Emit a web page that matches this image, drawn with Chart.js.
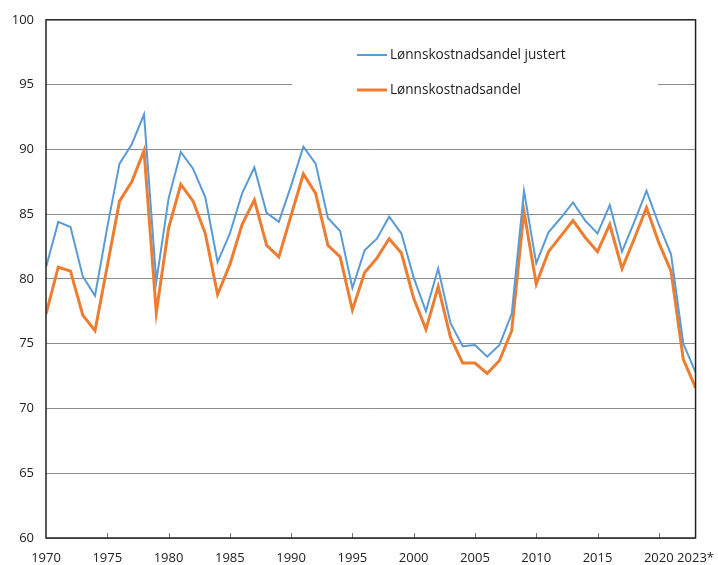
<!DOCTYPE html>
<html>
<head>
<meta charset="utf-8">
<script src="https://cdn.jsdelivr.net/npm/chart.js@4"></script>
<style>
  html, body { margin: 0; padding: 0; background: #fff; }
  #wrap { width: 718px; height: 565px; }
</style>
</head>
<body>
<div id="wrap"><canvas id="grafico"></canvas></div>
<script>
// år og verdier lest av figuren
const years = [1970, 1971, 1972, 1973, 1974, 1975, 1976, 1977, 1978, 1979,
  1980, 1981, 1982, 1983, 1984, 1985, 1986, 1987, 1988, 1989,
  1990, 1991, 1992, 1993, 1994, 1995, 1996, 1997, 1998, 1999,
  2000, 2001, 2002, 2003, 2004, 2005, 2006, 2007, 2008, 2009,
  2010, 2011, 2012, 2013, 2014, 2015, 2016, 2017, 2018, 2019,
  2020, 2021, 2022, 2023];

const justert = [80.9, 84.4, 84.0, 80.2, 78.7, 84.0, 88.9, 90.4, 92.7, 79.8,
  86.2, 89.8, 88.5, 86.3, 81.3, 83.5, 86.6, 88.6, 85.1, 84.4,
  87.2, 90.2, 88.9, 84.7, 83.7, 79.3, 82.2, 83.1, 84.8, 83.5,
  80.1, 77.5, 80.8, 76.6, 74.8, 74.9, 74.0, 74.9, 77.3, 86.8,
  81.2, 83.6, 84.7, 85.9, 84.5, 83.5, 85.7, 82.1, 84.4, 86.8,
  84.2, 81.9, 75.0, 72.8];

const andel = [77.3, 80.9, 80.6, 77.2, 76.0, 81.0, 86.0, 87.5, 89.9, 77.4,
  83.9, 87.3, 86.0, 83.5, 78.8, 81.1, 84.2, 86.1, 82.6, 81.7,
  84.9, 88.1, 86.6, 82.6, 81.7, 77.6, 80.5, 81.6, 83.1, 82.0,
  78.5, 76.1, 79.4, 75.5, 73.5, 73.5, 72.7, 73.7, 76.0, 85.2,
  79.6, 82.1, 83.3, 84.5, 83.2, 82.1, 84.2, 80.8, 83.1, 85.5,
  82.8, 80.6, 73.8, 71.6];

const xTicks = [1970, 1975, 1980, 1985, 1990, 1995, 2000, 2005, 2010, 2015, 2020, 2023];
const yTicks = [60, 65, 70, 75, 80, 85, 90, 95, 100];

const FONT = '"Open Sans", "Noto Sans", sans-serif';

// ramme, tick-streker og forklaring inne i plottet
const rammePlugin = {
  id: 'ramme',
  beforeDatasetsDraw(chart) {
    const ctx = chart.ctx;
    const a = chart.chartArea;
    const x = chart.scales.x;
    // hvit boks for forklaringen
    ctx.save();
    ctx.fillStyle = '#fff';
    ctx.fillRect(292, 30, 366, 100);
    ctx.font = '13.6px ' + FONT;
    ctx.textBaseline = 'middle';
    const rows = [[55, 0], [90, 1]];
    rows.forEach(([yy, i]) => {
      const ds = chart.data.datasets[i];
      ctx.strokeStyle = ds.borderColor;
      ctx.lineWidth = ds.borderWidth;
      ctx.beginPath();
      ctx.moveTo(357, yy);
      ctx.lineTo(387, yy);
      ctx.stroke();
      ctx.fillStyle = '#222';
      ctx.fillText(ds.label, 390, yy);
    });
    // små tick-streker på x-aksen
    ctx.strokeStyle = '#777';
    ctx.lineWidth = 1;
    xTicks.slice(1, -1).forEach(v => {
      const px = Math.round(x.getPixelForValue(v)) + 0.5;
      ctx.beginPath();
      ctx.moveTo(px, a.bottom);
      ctx.lineTo(px, a.bottom - 5);
      ctx.stroke();
    });
    ctx.restore();
  },
  afterDatasetsDraw(chart) {
    const ctx = chart.ctx;
    const a = chart.chartArea;
    ctx.save();
    ctx.strokeStyle = '#222';
    ctx.lineWidth = 1.5;
    ctx.strokeRect(a.left, a.top, a.right - a.left, a.bottom - a.top);
    ctx.restore();
  }
};

new Chart(document.getElementById('grafico').getContext('2d'), {
  type: 'line',
  data: {
    datasets: [
      {
        label: 'Lønnskostnadsandel justert',
        data: years.map((y, i) => ({ x: y, y: justert[i] })),
        borderColor: '#5B9BD5',
        borderWidth: 2,
        pointRadius: 0,
        tension: 0
      },
      {
        label: 'Lønnskostnadsandel',
        data: years.map((y, i) => ({ x: y, y: andel[i] })),
        borderColor: '#ED7D31',
        borderWidth: 3,
        pointRadius: 0,
        tension: 0
      }
    ]
  },
  options: {
    responsive: true,
    maintainAspectRatio: false,
    animation: false,
    layout: { padding: { top: 17, right: 21, left: 0, bottom: 0 } },
    plugins: {
      legend: { display: false },
      tooltip: { enabled: false }
    },
    scales: {
      x: {
        type: 'linear',
        min: 1970,
        max: 2023,
        afterBuildTicks: s => { s.ticks = xTicks.map(v => ({ value: v })); },
        afterFit: s => { s.height = 27; },
        grid: { display: false },
        border: { display: false },
        ticks: {
          autoSkip: false,
          maxRotation: 0,
          padding: 4,
          color: '#222',
          font: { family: FONT, size: 13 },
          callback: v => v === 2023 ? '2023*' : String(v)
        }
      },
      y: {
        min: 60,
        max: 100,
        afterBuildTicks: s => { s.ticks = yTicks.map(v => ({ value: v })); },
        afterFit: s => { s.width = 46; },
        grid: { color: '#8c8c8c', lineWidth: 1, drawTicks: false },
        border: { display: false },
        ticks: {
          padding: 12,
          color: '#222',
          font: { family: FONT, size: 13 }
        }
      }
    }
  },
  plugins: [rammePlugin]
});
</script>
</body>
</html>
